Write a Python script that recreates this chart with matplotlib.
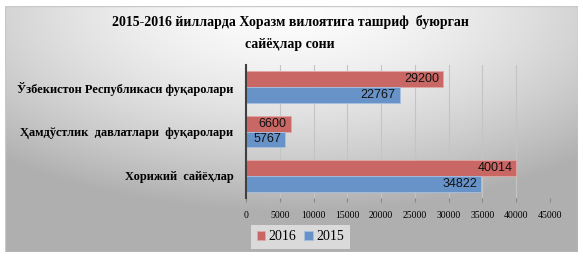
import numpy as np
import matplotlib.pyplot as plt
from matplotlib.patches import Rectangle

# data
categories = ['Хорижий  сайёҳлар', 'Ҳамдўстлик  давлатлари  фуқаролари', 'Ўзбекистон Республикаси фуқаролари']
vals_2016 = [40014, 6600, 29200]
vals_2015 = [34822, 5767, 22767]
ticks = [0, 5000, 10000, 15000, 20000, 25000, 30000, 35000, 40000, 45000]

red = '#C96765'
blue = '#6893C8'
serif = ['Liberation Serif', 'DejaVu Serif']

fig = plt.figure(figsize=(5.83, 2.60), dpi=100)
fig.patch.set_facecolor('white')

# gradient background of the chart area
bg = fig.add_axes([5/583, 1-252/260, 573/583, 246/260], zorder=0)
yy, xx = np.mgrid[0:1:200j, 0:1:400j]
d = np.sqrt(((xx - 0.5) * 1.0) ** 2 + ((yy - 0.0) * 0.9) ** 2)
g = 0.99 - 0.30 * np.clip(d / 0.75, 0, 1) ** 1.6
bg.imshow(np.dstack([g, g, g]), aspect='auto', extent=[0, 1, 1, 0])
bg.add_patch(Rectangle((0, 0), 1, 1, transform=bg.transAxes, fill=False, ec='#c8c8c8', lw=1))
bg.set_axis_off()

ax = fig.add_axes([246/583, 1-198/260, 304/583, 133/260], zorder=1)
ax.patch.set_alpha(0)
y = np.arange(len(categories))
h = 0.36
b16 = ax.barh(y + h/2, vals_2016, height=h, color=red, label='2016', edgecolor='#e0a8a6', lw=0.6)
b15 = ax.barh(y - h/2, vals_2015, height=h, color=blue, label='2015', edgecolor='#a8c0e0', lw=0.6)
for bars, vals in ((b16, vals_2016), (b15, vals_2015)):
    for r, v in zip(bars, vals):
        ax.text(v - 600, r.get_y() + r.get_height()/2, str(v), ha='right', va='center',
                fontsize=9, family=['Liberation Sans Narrow', 'Liberation Sans'], color='#111111')

ax.set_xlim(0, 45000)
ax.set_ylim(-0.5, 2.5)
ax.set_xticks(ticks)
ax.set_xticklabels([str(t) for t in ticks], family=serif, fontsize=7)
ax.set_yticks(y)
ax.set_yticklabels(categories, family=serif, fontsize=8.9, fontweight='bold')
ax.tick_params(axis='y', length=0, pad=9)
ax.tick_params(axis='x', length=3, color='#888888', pad=6)
ax.grid(axis='x', color='#c4c4c4', lw=0.8)
ax.set_axisbelow(True)
for s in ['top', 'right', 'bottom']:
    ax.spines[s].set_visible(False)
ax.spines['left'].set_color('#404040')
ax.spines['left'].set_linewidth(1.5)

fig.text(290/583, 1-22/260, '2015-2016 йилларда Хоразм вилоятига ташриф  буюрган', ha='center', va='center',
         family=serif, fontsize=10, fontweight='bold')
fig.text(290/583, 1-44/260, 'сайёҳлар сони', ha='center', va='center',
         family=serif, fontsize=10, fontweight='bold')

leg = fig.legend(handles=[b16, b15], labels=['2016', '2015'], loc='center left',
                 bbox_to_anchor=(244/583, 1-237/260), ncol=2, frameon=True,
                 prop={'family': serif, 'size': 10}, handlelength=0.6, handleheight=0.6,
                 handletextpad=0.25, columnspacing=0.6, borderpad=0.4)
leg.get_frame().set_facecolor('#e6e6e6')
leg.get_frame().set_edgecolor('none')
leg.get_frame().set_boxstyle('square', pad=0)

fig.savefig('out.png', dpi=100)
